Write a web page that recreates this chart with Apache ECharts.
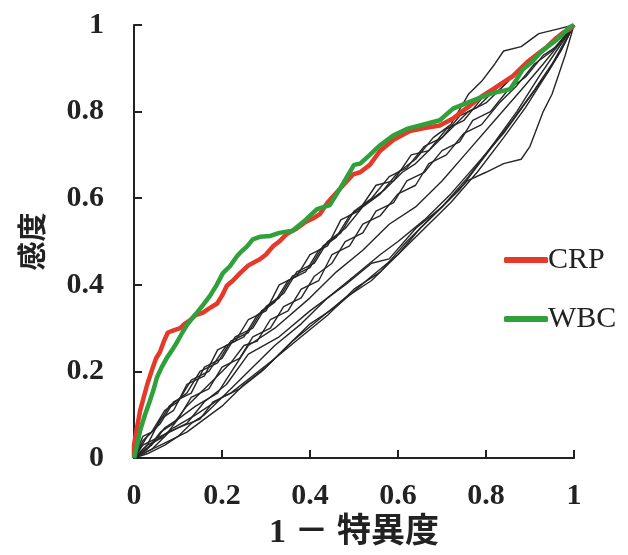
<!DOCTYPE html>
<html><head><meta charset="utf-8">
<script src="https://cdn.jsdelivr.net/npm/echarts@6/dist/echarts.min.js"></script>
<style>html,body{margin:0;padding:0;background:#fff}#c{width:628px;height:555px}</style>
</head><body><div id="c"></div>
<script>
var xTicks = [0, 0.2, 0.4, 0.6, 0.8, 1];
var yTicks = [0, 0.2, 0.4, 0.6, 0.8, 1];
var xTitle = '1 － 特異度';
var yTitle = '感度';

var crp = [[0,0],[0,0.03],[0.005,0.06],[0.014,0.11],[0.022,0.14],[0.03,0.17],[0.043,0.21],[0.05,0.23],[0.059,0.245],[0.068,0.27],[0.077,0.29],[0.09,0.295],[0.105,0.30],[0.115,0.31],[0.127,0.318],[0.14,0.33],[0.157,0.336],[0.17,0.345],[0.189,0.357],[0.2,0.375],[0.211,0.398],[0.225,0.41],[0.241,0.427],[0.26,0.445],[0.286,0.459],[0.3,0.47],[0.316,0.489],[0.33,0.50],[0.348,0.518],[0.37,0.53],[0.39,0.545],[0.41,0.555],[0.423,0.564],[0.44,0.59],[0.461,0.614],[0.48,0.635],[0.498,0.655],[0.514,0.66],[0.536,0.677],[0.559,0.709],[0.59,0.735],[0.627,0.755],[0.66,0.762],[0.695,0.768],[0.725,0.784],[0.745,0.80],[0.764,0.814],[0.79,0.835],[0.816,0.852],[0.84,0.868],[0.861,0.882],[0.893,0.914],[0.92,0.935],[0.939,0.95],[0.96,0.97],[0.975,0.982],[0.99,0.99],[1,1]];

var wbc = [[0,0],[0.007,0.03],[0.014,0.064],[0.025,0.10],[0.036,0.132],[0.045,0.16],[0.052,0.186],[0.063,0.21],[0.075,0.232],[0.087,0.25],[0.098,0.268],[0.11,0.29],[0.12,0.307],[0.13,0.32],[0.143,0.336],[0.158,0.355],[0.173,0.375],[0.188,0.40],[0.202,0.427],[0.218,0.443],[0.234,0.466],[0.245,0.478],[0.257,0.489],[0.27,0.505],[0.286,0.511],[0.31,0.513],[0.33,0.52],[0.36,0.525],[0.39,0.55],[0.416,0.575],[0.445,0.584],[0.47,0.625],[0.5,0.677],[0.514,0.68],[0.536,0.70],[0.56,0.723],[0.589,0.745],[0.62,0.76],[0.65,0.768],[0.695,0.78],[0.725,0.807],[0.764,0.823],[0.809,0.841],[0.855,0.852],[0.87,0.875],[0.884,0.898],[0.905,0.915],[0.923,0.936],[0.94,0.95],[0.961,0.966],[0.975,0.98],[0.99,0.995],[1,1]];

var u1 = [[0,0],[0.02,0.04],[0.05,0.07],[0.08,0.12],[0.12,0.15],[0.15,0.20],[0.19,0.22],[0.22,0.27],[0.26,0.29],[0.29,0.34],[0.33,0.37],[0.36,0.42],[0.40,0.44],[0.43,0.49],[0.47,0.52],[0.50,0.57],[0.54,0.60],[0.58,0.65],[0.62,0.67],[0.66,0.72],[0.70,0.74],[0.74,0.79],[0.78,0.81],[0.82,0.85],[0.86,0.88],[0.90,0.91],[0.94,0.95],[0.97,0.97],[1,1]];
var u2 = [[0,0],[0.03,0.03],[0.06,0.09],[0.09,0.11],[0.12,0.17],[0.16,0.19],[0.19,0.25],[0.23,0.27],[0.26,0.32],[0.30,0.34],[0.33,0.40],[0.37,0.42],[0.40,0.47],[0.44,0.49],[0.47,0.55],[0.51,0.57],[0.55,0.63],[0.59,0.64],[0.63,0.70],[0.67,0.71],[0.71,0.76],[0.75,0.78],[0.79,0.83],[0.83,0.85],[0.87,0.89],[0.91,0.92],[0.95,0.96],[1,1]];
var u3 = [[0,0],[0.04,0.03],[0.07,0.07],[0.10,0.09],[0.13,0.14],[0.17,0.16],[0.20,0.21],[0.24,0.23],[0.27,0.28],[0.31,0.30],[0.34,0.35],[0.38,0.37],[0.41,0.42],[0.45,0.45],[0.48,0.50],[0.52,0.52],[0.55,0.57],[0.59,0.59],[0.62,0.64],[0.66,0.66],[0.70,0.71],[0.74,0.73],[0.77,0.78],[0.81,0.80],[0.85,0.85],[0.89,0.88],[0.93,0.93],[0.96,0.95],[1,1]];
var u4 = [[0,0],[0.02,0.05],[0.04,0.06],[0.07,0.11],[0.10,0.13],[0.13,0.18],[0.17,0.20],[0.21,0.26],[0.25,0.28],[0.28,0.33],[0.32,0.36],[0.35,0.41],[0.39,0.43],[0.42,0.48],[0.46,0.51],[0.49,0.56],[0.53,0.59],[0.57,0.62],[0.61,0.66],[0.64,0.68],[0.68,0.72],[0.72,0.76],[0.76,0.80],[0.80,0.82],[0.84,0.86],[0.88,0.90],[0.92,0.93],[0.96,0.97],[1,1]];
var u5 = [[0,0],[0.03,0.02],[0.06,0.06],[0.09,0.08],[0.12,0.12],[0.15,0.15],[0.18,0.18],[0.22,0.22],[0.25,0.26],[0.28,0.27],[0.31,0.32],[0.35,0.34],[0.38,0.39],[0.42,0.41],[0.45,0.47],[0.49,0.49],[0.52,0.54],[0.56,0.56],[0.60,0.61],[0.64,0.63],[0.67,0.68],[0.71,0.70],[0.75,0.75],[0.79,0.77],[0.83,0.82],[0.87,0.86],[0.91,0.91],[0.95,0.94],[1,1]];
var u6 = [[0,0],[0.03,0.05],[0.06,0.08],[0.09,0.13],[0.13,0.15],[0.16,0.21],[0.20,0.23],[0.23,0.28],[0.27,0.30],[0.30,0.35],[0.34,0.38],[0.37,0.43],[0.41,0.45],[0.44,0.50],[0.48,0.53],[0.52,0.58],[0.56,0.61],[0.60,0.66],[0.64,0.69],[0.68,0.74],[0.72,0.77],[0.76,0.84],[0.79,0.87],[0.82,0.91],[0.84,0.94],[0.88,0.95],[0.92,0.98],[0.96,0.99],[1,1]];
var m1 = [[0,0],[0.03,0.03],[0.07,0.05],[0.10,0.09],[0.14,0.12],[0.19,0.15],[0.26,0.26],[0.32,0.30],[0.40,0.37],[0.46,0.43],[0.52,0.48],[0.58,0.54],[0.64,0.58],[0.70,0.64],[0.76,0.71],[0.82,0.78],[0.88,0.85],[0.93,0.91],[0.97,0.96],[1,1]];
var m2 = [[0,0],[0.04,0.02],[0.08,0.06],[0.12,0.08],[0.16,0.13],[0.21,0.17],[0.26,0.24],[0.33,0.28],[0.40,0.34],[0.48,0.40],[0.54,0.45],[0.58,0.46],[0.64,0.53],[0.70,0.58],[0.76,0.65],[0.82,0.73],[0.87,0.80],[0.92,0.88],[0.96,0.94],[1,1]];
var m3 = [[0,0],[0.05,0.04],[0.09,0.07],[0.14,0.10],[0.20,0.14],[0.26,0.20],[0.32,0.26],[0.38,0.31],[0.44,0.37],[0.50,0.42],[0.56,0.47],[0.60,0.50],[0.66,0.55],[0.72,0.61],[0.78,0.68],[0.84,0.75],[0.89,0.82],[0.94,0.89],[0.97,0.94],[1,1]];
var l1 = [[0,0],[0.03,0.01],[0.07,0.03],[0.10,0.05],[0.13,0.08],[0.16,0.10],[0.20,0.14],[0.24,0.16],[0.29,0.20],[0.34,0.25],[0.40,0.31],[0.46,0.35],[0.54,0.42],[0.60,0.47],[0.65,0.53],[0.70,0.58],[0.757,0.64],[0.80,0.66],[0.84,0.68],[0.88,0.69],[0.90,0.72],[0.93,0.80],[0.95,0.84],[0.98,0.93],[1,1]];
var l2 = [[0,0],[0.04,0.02],[0.08,0.04],[0.12,0.06],[0.16,0.09],[0.20,0.12],[0.25,0.17],[0.30,0.21],[0.36,0.27],[0.42,0.32],[0.48,0.37],[0.54,0.41],[0.60,0.47],[0.66,0.53],[0.72,0.59],[0.78,0.66],[0.84,0.74],[0.89,0.81],[0.94,0.89],[0.97,0.94],[1,1]];
var l3 = [[0,0],[0.02,0.03],[0.06,0.05],[0.10,0.07],[0.15,0.09],[0.18,0.13],[0.22,0.15],[0.27,0.19],[0.32,0.23],[0.38,0.28],[0.44,0.33],[0.50,0.39],[0.56,0.43],[0.62,0.50],[0.68,0.56],[0.74,0.62],[0.80,0.70],[0.86,0.78],[0.91,0.85],[0.95,0.91],[1,1]];

var blackLines = [u1,u2,u3,u4,u5,u6,m1,m2,m3,l1,l2,l3];

var serif = '"Liberation Serif","Noto Sans CJK JP",serif';
var series = blackLines.map(function(d, i){
  return {name:'ref'+i, type:'line', data:d, symbol:'none', silent:true,
    lineStyle:{color:'#262626', width:1.4}, z:2};
});
series.push({name:'CRP', type:'line', data:crp, symbol:'none', lineStyle:{color:'#e5392a', width:4.5}, itemStyle:{color:'#e5392a'}, z:3});
series.push({name:'WBC', type:'line', data:wbc, symbol:'none', lineStyle:{color:'#30a03a', width:4.5}, itemStyle:{color:'#30a03a'}, z:4});

var chart = echarts.init(document.getElementById('c'), null, {renderer:'canvas'});
chart.setOption({
  animation:false,
  backgroundColor:'#fff',
  grid:{left:134, right:54, top:25, bottom:90},
  legend:{data:['CRP','WBC'], orient:'vertical', left:499, top:240, itemGap:29, itemWidth:44, itemHeight:6, icon:'roundRect',
    textStyle:{fontFamily:serif, fontSize:30, color:'#222', padding:[0,0,0,-5]}},
  xAxis:{type:'value', min:0, max:1, interval:0.2,
    axisLine:{lineStyle:{color:'#222', width:2}},
    axisTick:{inside:true, length:8, lineStyle:{color:'#222', width:2}},
    splitLine:{show:false},
    axisLabel:{margin:23, fontFamily:serif, fontWeight:'bold', fontSize:30, color:'#222'},
    name:xTitle, nameLocation:'middle', nameGap:56,
    nameTextStyle:{fontFamily:serif, fontWeight:'bold', fontSize:34, color:'#222'}},
  yAxis:{type:'value', min:0, max:1, interval:0.2,
    axisLine:{lineStyle:{color:'#222', width:2}},
    axisTick:{inside:true, length:8, lineStyle:{color:'#222', width:2}},
    splitLine:{show:false},
    axisLabel:{margin:30, fontFamily:serif, fontWeight:'bold', fontSize:30, color:'#222'},
    name:yTitle, nameLocation:'middle', nameGap:88, nameRotate:90,
    nameTextStyle:{fontFamily:'"Noto Sans CJK JP",sans-serif', fontWeight:'bold', fontSize:29, color:'#222'}},
  series:series
});
</script></body></html>
